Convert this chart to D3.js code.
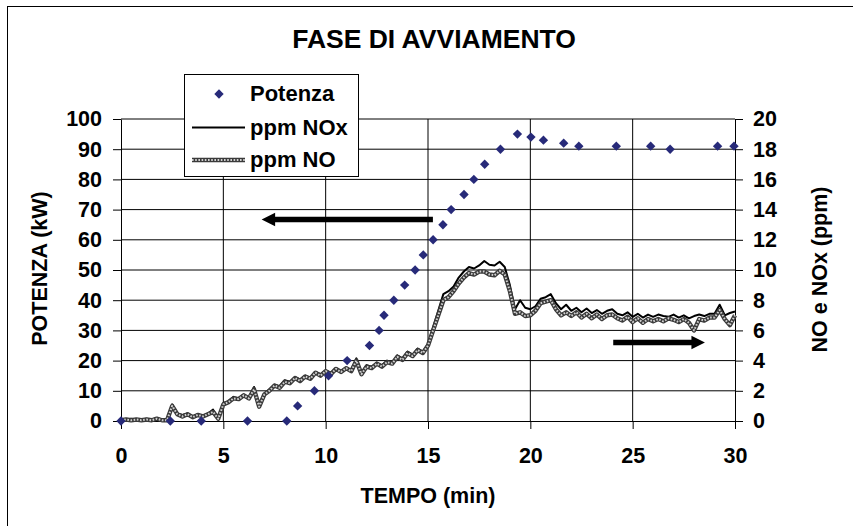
<!DOCTYPE html>
<html><head><meta charset="utf-8">
<script src="https://cdn.jsdelivr.net/npm/d3@7"></script>
<style>
html,body{margin:0;padding:0;background:#fff;}
svg{display:block;font-family:"Liberation Sans",Arial,sans-serif;font-weight:bold;}
</style></head><body>
<svg id="chart" width="853" height="526"></svg>
<script>
// ---------- DATA ----------
const chartTitle = "FASE DI AVVIAMENTO";
const xTitle = "TEMPO (min)";
const yLeftTitle = "POTENZA (kW)";
const yRightTitle = "NO e NOx (ppm)";

const xTicks = [0,5,10,15,20,25,30];
const yLeftTicks = [0,10,20,30,40,50,60,70,80,90,100];
const yRightTicks = [0,2,4,6,8,10,12,14,16,18,20];

// Potenza (kW) - diamonds
const powerTime = [0,2.41,3.92,6.18,8.1,8.63,9.45,10.14,11.05,12.14,12.61,12.85,13.33,13.86,14.37,14.77,15.25,15.73,16.13,16.76,17.24,17.77,18.54,19.37,20.03,20.64,21.63,22.37,24.2,25.88,26.83,29.15,29.95];
const powerKW   = [0,0,0,0,0,5,10,15,20,25,30,35,40,45,50,55,60,65,70,75,80,85,90,95,94,93,92,91,91,91,90,91,91];

// NOx / NO (ppm) sampled every 0.25 min
const gasTime = [0,0.25,0.5,0.75,1,1.25,1.5,1.75,2,2.25,2.5,2.75,3,3.25,3.5,3.75,4,4.25,4.5,4.75,5,5.25,5.5,5.75,6,6.25,6.5,6.75,7,7.25,7.5,7.75,8,8.25,8.5,8.75,9,9.25,9.5,9.75,10,10.25,10.5,10.75,11,11.25,11.5,11.75,12,12.25,12.5,12.75,13,13.25,13.5,13.75,14,14.25,14.5,14.75,15,15.25,15.5,15.75,16,16.25,16.5,16.75,17,17.25,17.5,17.75,18,18.25,18.5,18.75,19,19.25,19.5,19.75,20,20.25,20.5,20.75,21,21.25,21.5,21.75,22,22.25,22.5,22.75,23,23.25,23.5,23.75,24,24.25,24.5,24.75,25,25.25,25.5,25.75,26,26.25,26.5,26.75,27,27.25,27.5,27.75,28,28.25,28.5,28.75,29,29.25,29.5,29.75,30];
const noxPpm = [
  0.1,0.1,0.15,0.1, 0.1,0.15,0.1,0.2, 0.1,0.1,1.1,0.5, 0.4,0.5,0.3,0.45, 0.35,0.5,0.75,0.2,
  1.2,1.3,1.6,1.5, 1.75,1.55,2.25,1.0, 1.8,2.1,2.4,2.3, 2.7,2.6,2.9,2.75, 3.0,2.85,3.25,3.1,
  3.35,3.2,3.5,3.3, 3.55,3.35,4.15,3.2, 3.7,3.6,3.85,3.7, 4.0,3.85,4.35,4.15, 4.6,4.4,4.8,4.6,
  5.1,6.2,7.3,8.4, 8.6,8.9,9.5,9.9, 10.2,10.1,10.3,10.6, 10.35,10.3,10.55,10.2, 9.0,7.4,8.0,7.5,
  7.4,7.6,8.1,8.2, 8.4,7.8,7.4,7.7, 7.3,7.5,7.2,7.45, 7.15,7.35,7.1,7.3, 7.4,7.1,7.0,7.2,
  6.9,7.1,6.85,7.05, 6.9,7.05,6.95,6.9, 7.05,6.85,7.0,6.8, 6.95,7.05,6.95,7.1, 7.1,7.7,7.0,7.15,
  7.25];
const noPpm = [
  0.05,0.1,0.05,0.1, 0.05,0.1,0.05,0.15, 0.05,0.05,1.0,0.45, 0.3,0.45,0.25,0.4, 0.3,0.45,0.6,0.15,
  1.1,1.25,1.5,1.45, 1.7,1.5,2.1,0.95, 1.75,2.0,2.35,2.2, 2.6,2.5,2.85,2.65, 2.95,2.8,3.2,3.0,
  3.3,3.1,3.45,3.25, 3.5,3.3,4.0,3.1, 3.6,3.5,3.8,3.6, 3.9,3.8,4.25,4.05, 4.5,4.3,4.7,4.5,
  5.0,6.0,7.0,8.0, 8.2,8.6,9.1,9.5, 9.8,9.7,9.9,9.9, 9.7,9.65,9.95,9.7, 8.6,7.1,7.2,6.95,
  7.0,7.3,7.8,7.9, 8.0,7.4,7.0,7.2, 6.95,7.2,6.85,7.1, 6.8,7.05,6.75,7.0, 7.05,6.8,6.65,6.9,
  6.55,6.8,6.5,6.75, 6.6,6.75,6.6,6.8, 6.7,6.55,6.75,6.5, 6.0,6.75,6.65,6.85, 6.85,7.35,6.75,6.35,
  7.0];

const legendLabels = ["Potenza","ppm NOx","ppm NO"];
// annotation arrows in data units
const arrowLeft  = {from:15.24, to:6.87, value:66.7, axis:"left"};
const arrowRight = {from:24.05, to:28.53, value:5.2, axis:"right"};

// ---------- CHART ----------
const FONT = '"Liberation Sans",Arial,sans-serif';
const svg = d3.select("#chart");
const x  = d3.scaleLinear().domain([0,30]).range([121,735]);
const yL = d3.scaleLinear().domain([0,100]).range([421,119]);
const yR = d3.scaleLinear().domain([0,20]).range([421,119]);
const diamondColor = "#272a79";

// outer border
svg.append("rect").attr("x",7.5).attr("y",6.5).attr("width",900).attr("height",600)
  .attr("fill","none").attr("stroke","#000").attr("stroke-width",1);

// title
svg.append("text").attr("x",434).attr("y",48).attr("text-anchor","middle")
  .attr("font-size",26.5).text(chartTitle);

// gridlines
const grid = svg.append("g");
grid.selectAll("line.h").data(yLeftTicks.filter(d=>d>0)).join("line").attr("class","h")
  .attr("x1",x(0)).attr("x2",x(30)).attr("y1",d=>yL(d)).attr("y2",d=>yL(d))
  .attr("stroke","#000").attr("stroke-width",1);
grid.selectAll("line.v").data(xTicks.filter(d=>d>0 && d<30)).join("line").attr("class","v")
  .attr("x1",d=>x(d)).attr("x2",d=>x(d)).attr("y1",yL(0)).attr("y2",yL(100))
  .attr("stroke","#000").attr("stroke-width",1);

function styleAxis(g){
  g.attr("font-size",21.5).attr("font-family",FONT).attr("font-weight","bold");
  g.selectAll("line").attr("stroke","#000");
  g.select(".domain").attr("stroke","#000");
  g.selectAll("text").attr("fill","#000");
}
svg.append("g").attr("transform",`translate(0,${yL(0)})`)
  .call(d3.axisBottom(x).tickValues(xTicks).tickSize(8).tickSizeOuter(0).tickPadding(19))
  .call(styleAxis);
svg.append("g").attr("transform",`translate(${x(0)},0)`)
  .call(d3.axisLeft(yL).tickValues(yLeftTicks).tickSize(8).tickSizeOuter(0).tickPadding(11))
  .call(styleAxis);
svg.append("g").attr("transform",`translate(${x(30)},0)`)
  .call(d3.axisRight(yR).tickValues(yRightTicks).tickSize(8).tickSizeOuter(0).tickPadding(10))
  .call(styleAxis);

// axis titles
svg.append("text").attr("x",428).attr("y",503).attr("text-anchor","middle")
  .attr("font-size",21.5).text(xTitle);
svg.append("text").attr("transform","translate(47,268.5) rotate(-90)").attr("text-anchor","middle")
  .attr("font-size",21.5).text(yLeftTitle);
svg.append("text").attr("transform","translate(827,269.5) rotate(-90)").attr("text-anchor","middle")
  .attr("font-size",21.5).text(yRightTitle);

// lines
const gas = gasTime.map((t,i)=>({t, nox:noxPpm[i], no:noPpm[i]}));
const lineNOx = d3.line().x(d=>x(d.t)).y(d=>yR(d.nox));
const lineNO  = d3.line().x(d=>x(d.t)).y(d=>yR(d.no));
svg.append("path").datum(gas).attr("d",lineNOx).attr("fill","none")
  .attr("stroke","#000").attr("stroke-width",2).attr("stroke-linejoin","round");
function noStyle(sel, base){
  sel.append("path").attr("d",base).attr("fill","none").attr("stroke","#3a3a3a")
    .attr("stroke-width",4.4).attr("stroke-linejoin","round");
  sel.append("path").attr("d",base).attr("fill","none").attr("stroke","#d0d0d0")
    .attr("stroke-width",2).attr("stroke-dasharray","1.6,1.6").attr("stroke-linejoin","round");
}
noStyle(svg.append("g"), lineNO(gas));

// diamonds
const sym = d3.symbol().type(d3.symbolSquare).size(44);
svg.append("g").selectAll("path").data(powerTime.map((t,i)=>({t,p:powerKW[i]}))).join("path")
  .attr("d",sym).attr("fill",diamondColor)
  .attr("transform",d=>`translate(${x(d.t)},${yL(d.p)}) rotate(45)`);

// arrows
function arrow(a){
  const ys = a.axis==="left" ? yL(a.value) : yR(a.value);
  const x1 = x(a.from), x2 = x(a.to);
  const dir = Math.sign(x2-x1);
  const headLen = 13.5, half = 6.7;
  svg.append("line").attr("x1",x1).attr("x2",x2 - dir*headLen+dir).attr("y1",ys).attr("y2",ys)
    .attr("stroke","#000").attr("stroke-width",5.5);
  svg.append("path").attr("fill","#000")
    .attr("d",`M${x2},${ys}L${x2-dir*headLen},${ys-half}L${x2-dir*headLen},${ys+half}Z`);
}
arrow(arrowLeft); arrow(arrowRight);

// legend
const lg = svg.append("g");
lg.append("rect").attr("x",184.5).attr("y",74.5).attr("width",174).attr("height",102)
  .attr("fill","#fff").attr("stroke","#000").attr("stroke-width",1);
const rowsY = [94, 127.5, 160];
lg.append("path").attr("d",sym).attr("fill",diamondColor)
  .attr("transform",`translate(219,${rowsY[0]}) rotate(45)`);
lg.append("line").attr("x1",192).attr("x2",245).attr("y1",rowsY[1]).attr("y2",rowsY[1])
  .attr("stroke","#000").attr("stroke-width",2.2);
noStyle(lg.append("g"), `M192,${rowsY[2]}L245,${rowsY[2]}`);
lg.selectAll("text").data(legendLabels).join("text")
  .attr("x",250).attr("y",(d,i)=>rowsY[i]+7)
  .attr("font-size",22).text(d=>d);
</script>
</body></html>
